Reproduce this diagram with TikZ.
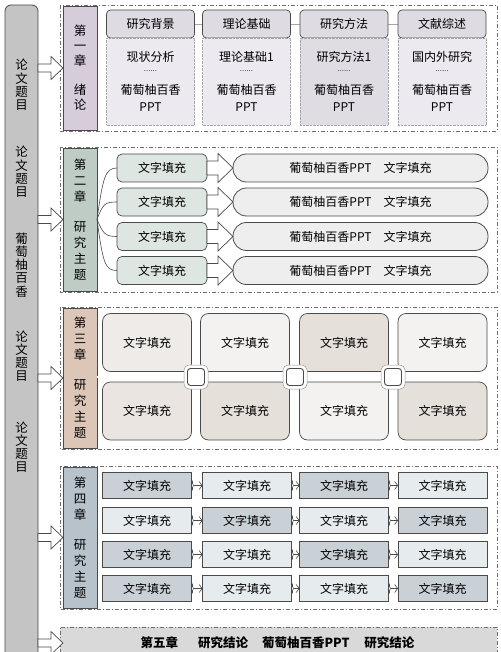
\documentclass[tikz,border=0pt]{standalone}
\usepackage{fontspec}
\setmainfont{Noto Sans CJK SC}
\usetikzlibrary{calc,arrows.meta,decorations.pathreplacing}
\definecolor{edge}{HTML}{4A4A4A}
\definecolor{barfill}{HTML}{C4C4C4}
\definecolor{laba}{HTML}{D6CCDA}
\definecolor{labb}{HTML}{BECCC5}
\definecolor{labc}{HTML}{DCC6B7}
\definecolor{labd}{HTML}{B8C2CA}
\definecolor{hdfill}{HTML}{DFDBE3}
\definecolor{bodyl}{HTML}{ECE9F0}
\definecolor{bodyd}{HTML}{DFDCE4}
\definecolor{gbox}{HTML}{DEE6E2}
\definecolor{capfill}{HTML}{EEEEEE}
\definecolor{tl}{HTML}{F4F2F0}
\definecolor{td}{HTML}{E6E0DB}
\definecolor{bl}{HTML}{E6EBEE}
\definecolor{bd}{HTML}{C9D1D7}
\definecolor{fivefill}{HTML}{D9D9D9}
\begin{document}
\begin{tikzpicture}[x=1pt,y=-1pt,
  every node/.style={inner sep=0pt,outer sep=0pt},
  txt/.style={font=\fontsize{12}{14}\selectfont},
  bar/.style={draw=edge,fill=barfill,rounded corners=6pt,line width=0.8pt},
  bartxt/.style={align=center,font=\fontsize{12.5}{13.2}\selectfont},
  outer/.style={draw=edge!80,dash pattern=on 4pt off 2pt on 1pt off 2pt,line width=0.6pt},
  labbox/.style={draw=edge,line width=0.8pt,minimum width=34pt,align=center,font=\fontsize{12.5}{16}\selectfont},
  harrow/.style={draw=edge,fill=white,line width=0.7pt,line join=miter},
  hdbox/.style={draw=edge,fill=hdfill,rounded corners=4pt,minimum width=88pt,minimum height=28pt,txt,line width=0.7pt},
  bodybox/.style={draw=gray!70,densely dotted,minimum width=88pt,minimum height=87pt,txt,align=center},
  gsbox/.style={draw=edge,fill=gbox,rounded corners=5pt,minimum width=90pt,minimum height=28pt,txt,line width=0.7pt},
  capbox/.style={draw=edge,fill=capfill,rounded corners=13.5pt,minimum width=255pt,minimum height=28pt,txt,line width=0.8pt},
  curve/.style={draw=edge,line width=0.6pt},
  tbox/.style={draw=edge,rounded corners=8pt,minimum width=89pt,minimum height=58pt,txt,line width=0.7pt},
  gridline/.style={draw=gray!80,double=white,double distance=1.6pt,line width=0.4pt},
  rbox/.style={draw=edge,minimum width=89pt,minimum height=26pt,txt,line width=0.7pt},
  rarr/.style={draw=edge,line width=0.6pt,-{Straight Barb[length=3pt,width=8pt]}},
  rbrace/.style={draw=edge,line width=0.6pt,decorate,decoration={brace,amplitude=2pt}}
]
\useasboundingbox (0,0) rectangle (500,652);
\fill[white] (0,0) rectangle (500,652);

% left bar
\node[bar,minimum width=33pt,minimum height=680pt,anchor=north west] (bar) at (5,5) {};
\node[bartxt] (bt1) at (21.5,85) {论\\文\\题\\目};
\node[bartxt] (bt2) at (21.5,172) {论\\文\\题\\目};
\node[bartxt] (bt3) at (21.5,265) {葡\\萄\\柚\\百\\香};
\node[bartxt] (bt4) at (21.5,356) {论\\文\\题\\目};
\node[bartxt] (bt5) at (21.5,447) {论\\文\\题\\目};

% outer dashed boxes
\draw[outer] (60,5) rectangle (497,131);
\draw[outer] (60,147) rectangle (497,292);
\draw[outer] (60,307) rectangle (497,449);
\draw[outer] (60,466) rectangle (497,609);
\node[outer,fill=fivefill,minimum width=437pt,minimum height=40pt,anchor=north west] (c5) at (60,627) {};
\coordinate (c5a) at (60,643);

% chapter labels
\node[labbox,fill=laba,minimum height=124pt,font=\fontsize{12.5}{15}\selectfont] (l1) at (80,68) {第\\一\\章\\[14pt]绪\\论};
\node[labbox,fill=labb,minimum height=143pt] (l2) at (80,219.5) {第\\二\\章\\[14pt]研\\究\\主\\题};
\node[labbox,fill=labc,minimum height=140pt] (l3) at (80,378) {第\\三\\章\\[14pt]研\\究\\主\\题};
\node[labbox,fill=labd,minimum height=141pt] (l4) at (80,537.5) {第\\四\\章\\[14pt]研\\究\\主\\题};

% arrows from bar
\foreach \t in {l1,l2,l3,l4,c5a}{
  \draw[harrow] (bar.east |- \t) ++(0,-4) -- ++(13,0) -- ++(0,-7.5) -- ++(12,11.5) -- ++(-12,11.5) -- ++(0,-7.5) -- ++(-13,0) -- cycle;
}

% chapter 1
\draw[draw=gray!70,line width=0.6pt] (150.5,24) -- (442,24);
\node[hdbox] (h1) at (150.5,24) {研究背景};
\node[hdbox] (h2) at (246.5,24) {理论基础};
\node[hdbox] (h3) at (344,24) {研究方法};
\node[hdbox] (h4) at (442,24) {文献综述};
\node[bodybox,fill=bodyl,anchor=north] (d1) at (h1.south) {};
\node[bodybox,fill=bodyl,anchor=north] (d2) at (h2.south) {};
\node[bodybox,fill=bodyd,anchor=north] (d3) at (h3.south) {};
\node[bodybox,fill=bodyl,anchor=north] (d4) at (h4.south) {};
\foreach \d/\s in {d1/现状分析,d2/理论基础1,d3/研究方法1,d4/国内外研究}{
  \node[txt] at ($(\d.north)+(0,19)$) {\s};
  \node[font=\fontsize{8}{9}\selectfont,text=black!70] at ($(\d.north)+(0,33)$) {......};
  \node[txt] at ($(\d.north)+(0,52)$) {葡萄柚百香};
  \node[txt] at ($(\d.north)+(0,69)$) {PPT};
}

% chapter 2
\foreach \i/\y in {1/168,2/202,3/236.5,4/270.5}{
  \node[gsbox] (g\i) at (162,\y) {文字填充};
  \node[capbox] (k\i) at (360.5,\y) {葡萄柚百香PPT\hspace{12pt}文字填充};
  \draw[harrow] (g\i.east) ++(0,-7) -- ++(11,0) -- ++(0,-7.5) -- ++(15,14.5) -- ++(-15,14.5) -- ++(0,-7.5) -- ++(-11,0) -- cycle;
}
\draw[curve] (l2.east) .. controls +(6,-42) and +(-12,0) .. (g1.west);
\draw[curve] (l2.east) .. controls +(6,-16) and +(-12,0) .. (g2.west);
\draw[curve] (l2.east) .. controls +(6,14) and +(-12,0) .. (g3.west);
\draw[curve] (l2.east) .. controls +(6,44) and +(-12,0) .. (g4.west);

% chapter 3
\draw[gridline] (l3.east |- 0,377) -- (497,377);
\foreach \x in {196,295,393}{\draw[gridline] (\x,307.5) -- (\x,448.5);}
\node[tbox,fill=tl!60!td] (s11) at (147,342.5) {文字填充};
\node[tbox,fill=tl] (s12) at (245,342.5) {文字填充};
\node[tbox,fill=td] (s13) at (344,342.5) {文字填充};
\node[tbox,fill=tl] (s14) at (442.5,342.5) {文字填充};
\node[tbox,fill=td!70!tl] (s21) at (147,411) {文字填充};
\node[tbox,fill=td] (s22) at (245,411) {文字填充};
\node[tbox,fill=tl] (s23) at (344,411) {文字填充};
\node[tbox,fill=td] (s24) at (442.5,411) {文字填充};
\foreach \x/\n in {196/q1,295/q2,393/q3}{
  \node[draw=gray!80,fill=white,rounded corners=5pt,minimum size=24pt,line width=0.5pt] (\n o) at (\x,377) {};
  \node[draw=edge,fill=white,rounded corners=3pt,minimum size=17pt,line width=0.9pt] (\n) at (\x,377) {};
}

% chapter 4
\foreach \r/\y/\a/\b/\c/\d in {1/485.5/bd/bl/bd/bl,2/520.5/bl/bd/bl/bd,3/554.5/bd/bl/bd/bl,4/588.5/bd/bl/bl/bd}{
  \node[rbox,fill=\a] (r\r1) at (147,\y) {文字填充};
  \node[rbox,fill=\b] (r\r2) at (247,\y) {文字填充};
  \node[rbox,fill=\c] (r\r3) at (344,\y) {文字填充};
  \node[rbox,fill=\d] (r\r4) at (442.5,\y) {文字填充};
  \foreach \p/\q in {1/2,2/3,3/4}{
    \draw[rbrace] ($(r\r\p.east)+(0,-6)$) -- ($(r\r\p.east)+(0,6)$);
    \draw[rarr] ($(r\r\p.east)+(2,0)$) -- (r\r\q.west);
  }
}

% chapter 5
\node[font=\fontsize{12.5}{14}\selectfont\bfseries] (t5) at (277.5,643) {第五章\hspace{20pt}研究结论\hspace{14pt}葡萄柚百香PPT\hspace{15pt}研究结论};
\end{tikzpicture}
\end{document}
